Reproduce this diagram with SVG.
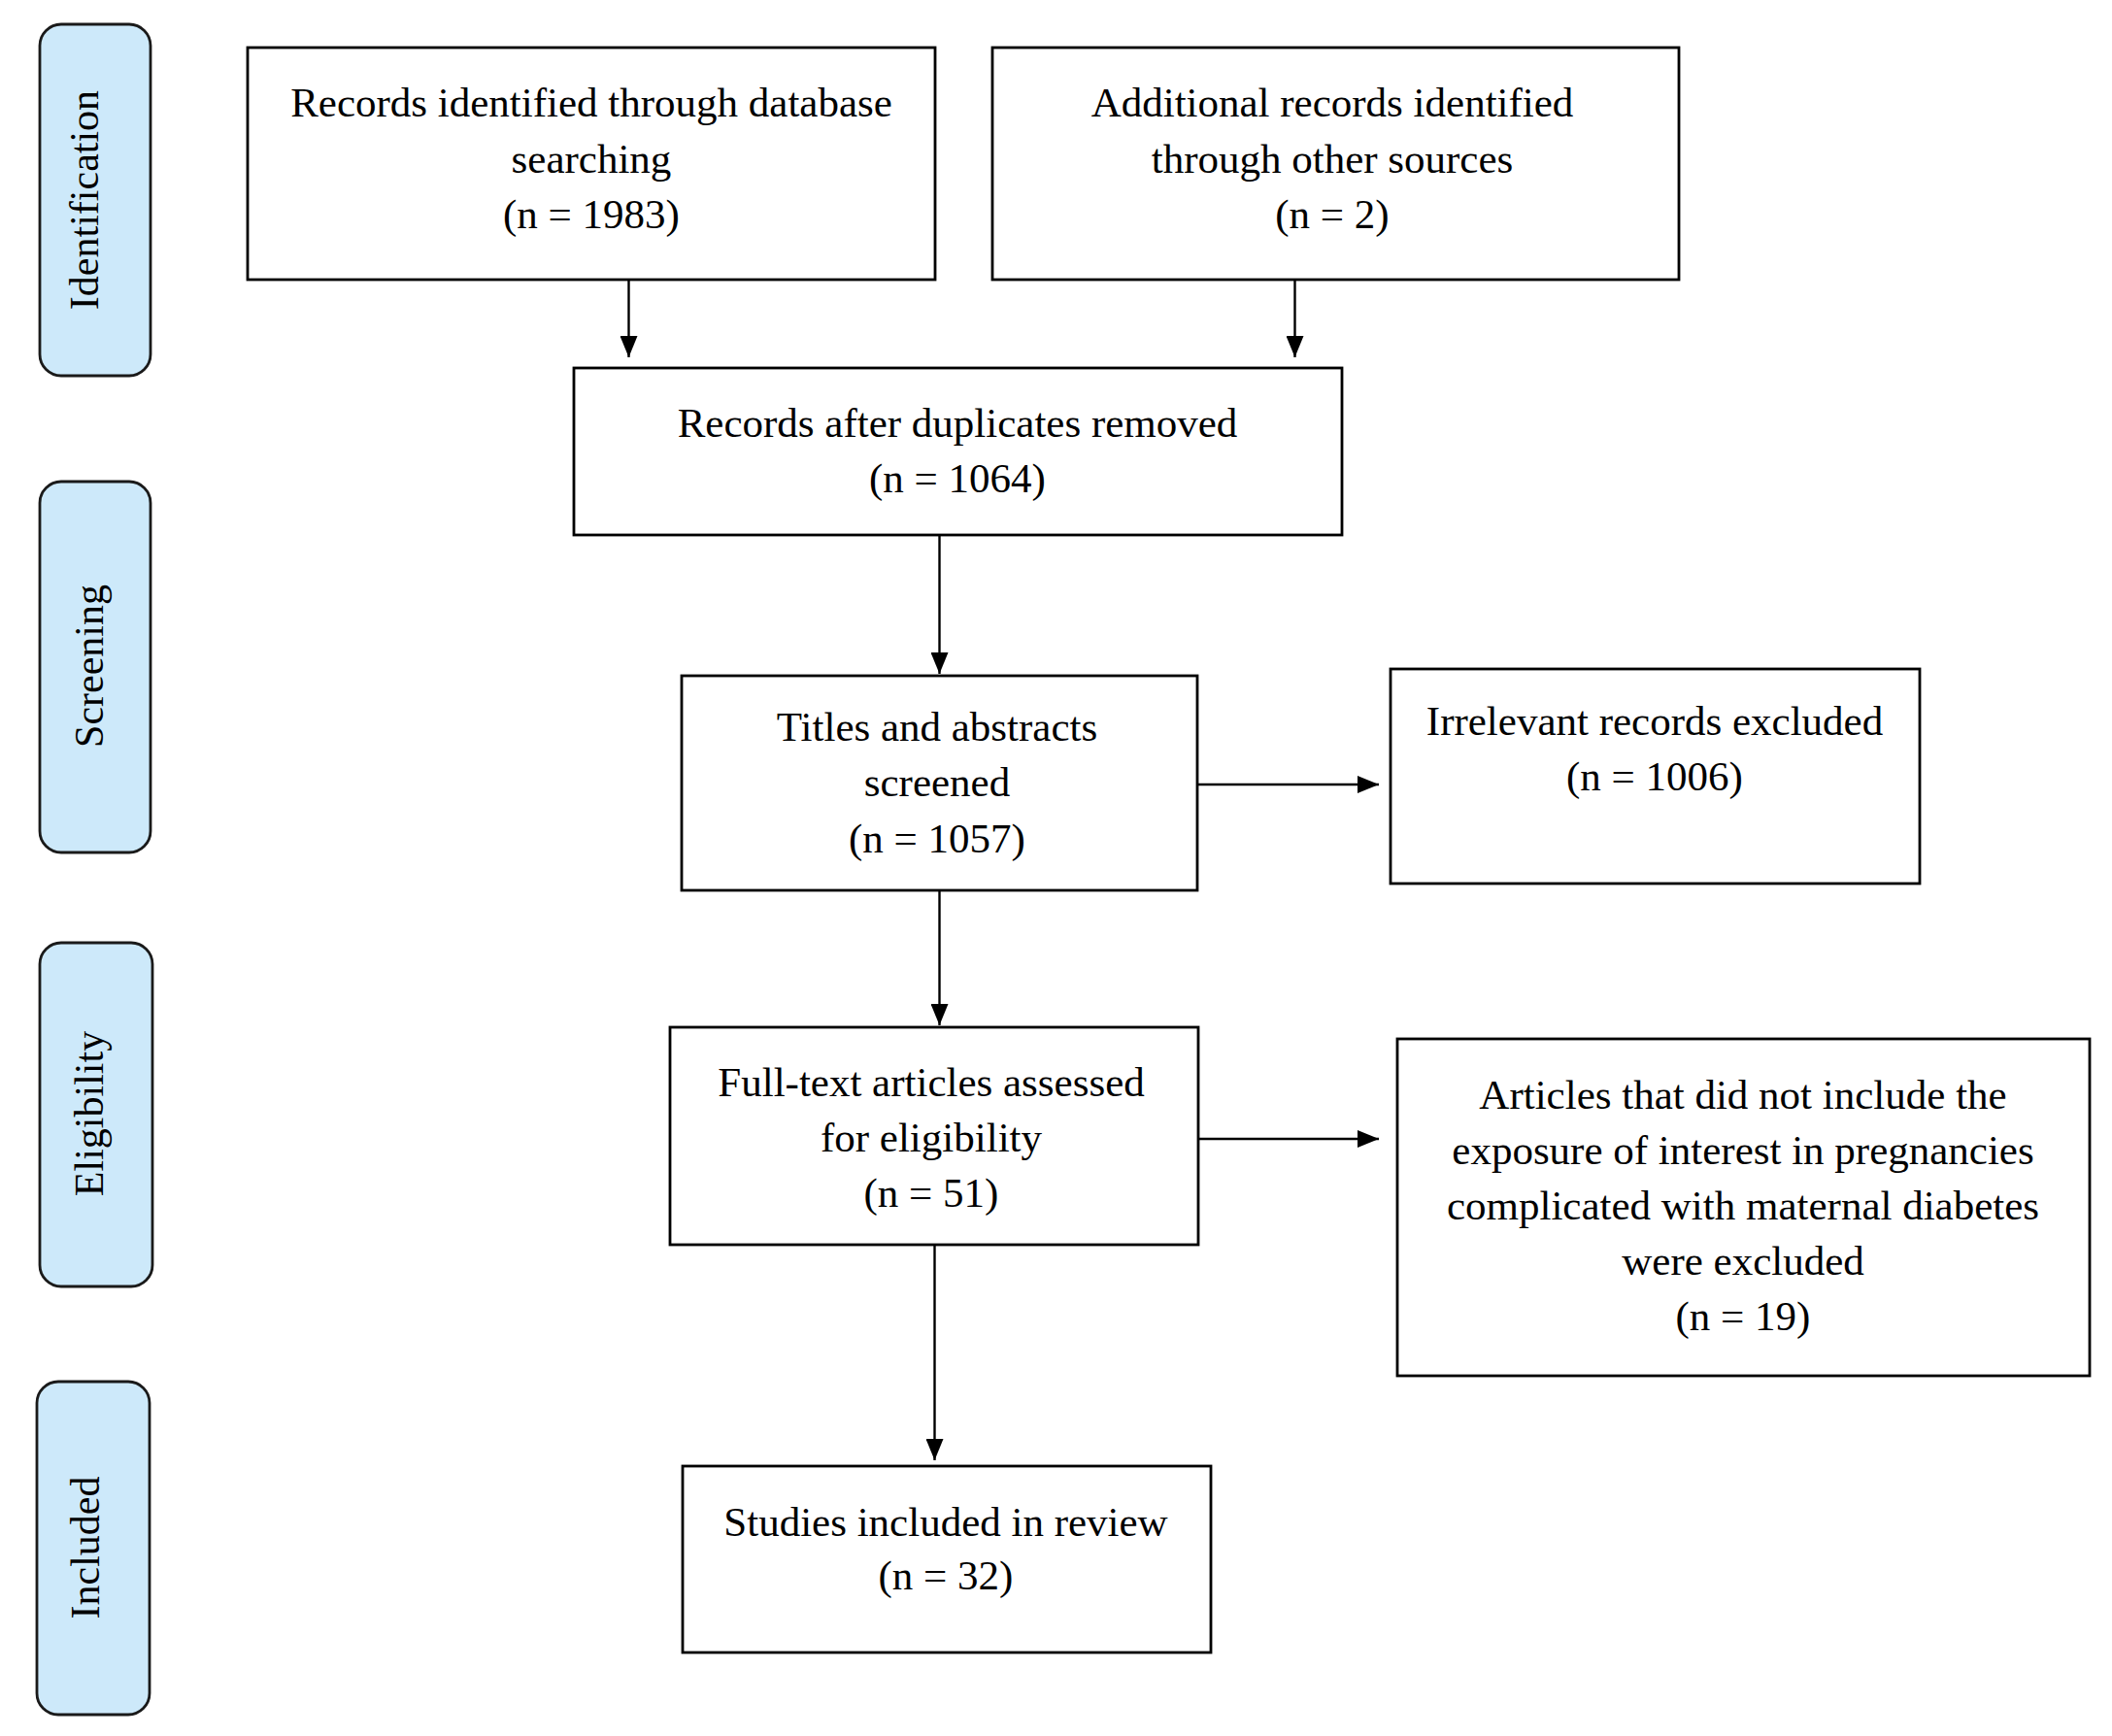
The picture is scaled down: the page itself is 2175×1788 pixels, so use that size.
<svg xmlns="http://www.w3.org/2000/svg" width="2175" height="1788" viewBox="0 0 2175 1788">
<style>
.box{fill:#fff;stroke:#000;stroke-width:2.8}
.side{fill:#cde9fa;stroke:#1a1a1a;stroke-width:2.8}
.t{font-family:"Liberation Serif","Times New Roman",serif;font-size:43px;fill:#000;text-anchor:middle}
.s{font-family:"Liberation Serif","Times New Roman",serif;font-size:42px;fill:#000;text-anchor:middle}
.c{stroke:#000;stroke-width:2.4;fill:none;marker-end:url(#ah)}
</style>
<defs>
<marker id="ah" markerUnits="userSpaceOnUse" markerWidth="22" markerHeight="18" refX="22" refY="9" orient="auto">
<path d="M0,0 L22,9 L0,18 z" fill="#000"/>
</marker>
</defs>
<rect width="2175" height="1788" fill="#fff"/>
<g id="phase-identification">
<rect class="side" x="41" y="25" width="114" height="362" rx="22"/>
<text class="s" transform="translate(101,206) rotate(-90)">Identification</text>
</g>
<g id="phase-screening">
<rect class="side" x="41" y="496" width="114" height="382" rx="22"/>
<text class="s" transform="translate(106,686) rotate(-90)">Screening</text>
</g>
<g id="phase-eligibility">
<rect class="side" x="41" y="971" width="116" height="354" rx="22"/>
<text class="s" transform="translate(106,1147) rotate(-90)">Eligibility</text>
</g>
<g id="phase-included">
<rect class="side" x="38" y="1423" width="116" height="343" rx="22"/>
<text class="s" transform="translate(102,1594) rotate(-90)">Included</text>
</g>
<g id="n-database">
<rect class="box" x="255" y="49" width="708" height="239"/>
<text class="t" x="609" y="120">Records identified through database</text>
<text class="t" x="609" y="178">searching</text>
<text class="t" x="609" y="235">(n = 1983)</text>
</g>
<g id="n-other">
<rect class="box" x="1022" y="49" width="707" height="239"/>
<text class="t" x="1372" y="120">Additional records identified</text>
<text class="t" x="1372" y="178">through other sources</text>
<text class="t" x="1372" y="235">(n = 2)</text>
</g>
<g id="n-dedup">
<rect class="box" x="591" y="379" width="791" height="172"/>
<text class="t" x="986" y="450">Records after duplicates removed</text>
<text class="t" x="986" y="507">(n = 1064)</text>
</g>
<g id="n-screened">
<rect class="box" x="702" y="696" width="531" height="221"/>
<text class="t" x="965" y="763">Titles and abstracts</text>
<text class="t" x="965" y="820">screened</text>
<text class="t" x="965" y="878">(n = 1057)</text>
</g>
<g id="n-irrelevant">
<rect class="box" x="1432" y="689" width="545" height="221"/>
<text class="t" x="1704" y="757">Irrelevant records excluded</text>
<text class="t" x="1704" y="814">(n = 1006)</text>
</g>
<g id="n-fulltext">
<rect class="box" x="690" y="1058" width="544" height="224"/>
<text class="t" x="959" y="1129">Full-text articles assessed</text>
<text class="t" x="959" y="1186">for eligibility</text>
<text class="t" x="959" y="1243">(n = 51)</text>
</g>
<g id="n-excluded">
<rect class="box" x="1439" y="1070" width="713" height="347"/>
<text class="t" x="1795" y="1142">Articles that did not include the</text>
<text class="t" x="1795" y="1199">exposure of interest in pregnancies</text>
<text class="t" x="1795" y="1256">complicated with maternal diabetes</text>
<text class="t" x="1795" y="1313">were excluded</text>
<text class="t" x="1795" y="1370">(n = 19)</text>
</g>
<g id="n-included">
<rect class="box" x="703" y="1510" width="544" height="192"/>
<text class="t" x="974" y="1582">Studies included in review</text>
<text class="t" x="974" y="1637">(n = 32)</text>
</g>
<g id="connectors">
<line class="c" x1="647.5" y1="288" x2="647.5" y2="368"/>
<line class="c" x1="1333.5" y1="288" x2="1333.5" y2="368"/>
<line class="c" x1="967.5" y1="551" x2="967.5" y2="694"/>
<line class="c" x1="967.5" y1="917" x2="967.5" y2="1056"/>
<line class="c" x1="962.5" y1="1282" x2="962.5" y2="1504"/>
<line class="c" x1="1233" y1="808" x2="1420" y2="808"/>
<line class="c" x1="1234" y1="1173" x2="1420" y2="1173"/>
</g>
</svg>
